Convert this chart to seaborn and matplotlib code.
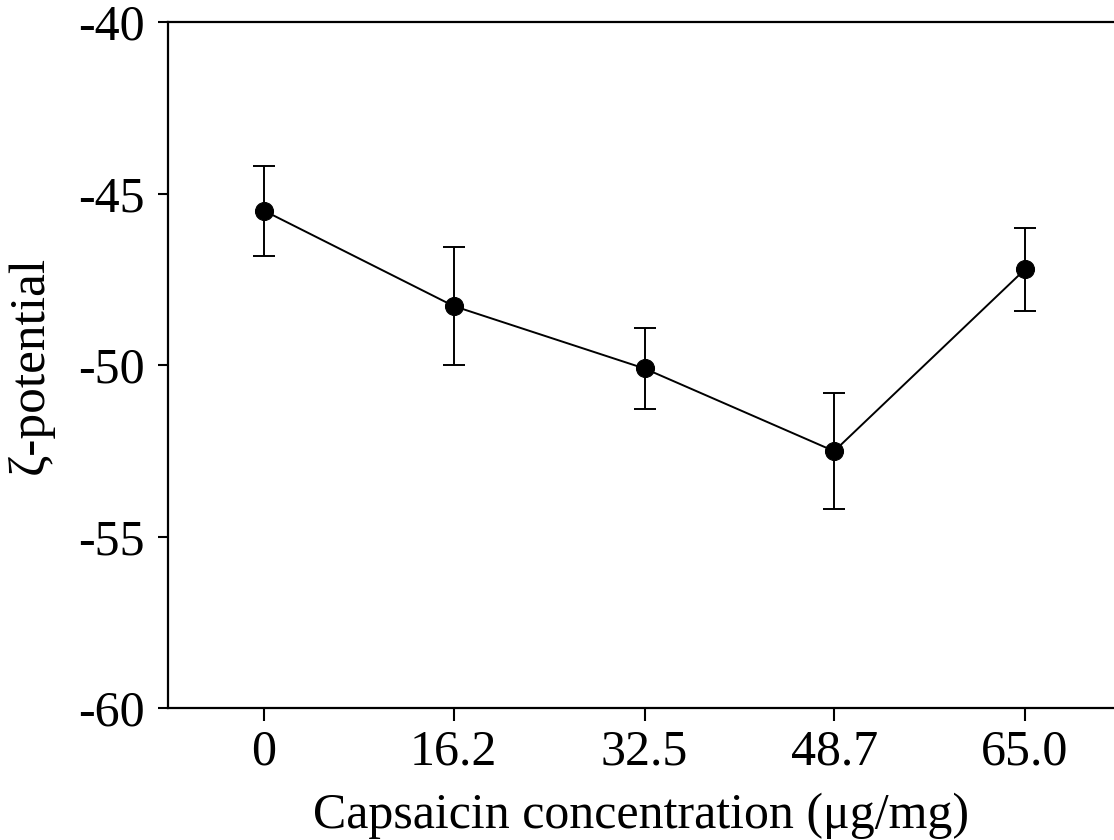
import matplotlib
matplotlib.use("Agg")
import matplotlib.pyplot as plt
import pandas as pd
import seaborn as sns

# data
concentration = [0, 16.2, 32.5, 48.7, 65.0]
tick_labels = ["0", "16.2", "32.5", "48.7", "65.0"]
zeta_mean = [-45.5, -48.28, -50.1, -52.51, -47.21]
zeta_err = [1.31, 1.72, 1.19, 1.69, 1.21]

sns.set_style("ticks")
plt.rcParams["font.family"] = ["Liberation Serif", "DejaVu Serif"]
plt.rcParams["text.color"] = "black"
plt.rcParams["axes.labelcolor"] = "black"
plt.rcParams["xtick.color"] = "black"
plt.rcParams["ytick.color"] = "black"

df = pd.DataFrame({"conc": concentration, "zeta": zeta_mean, "err": zeta_err})

fig = plt.figure(figsize=(11.14, 8.4), dpi=100)
ax = fig.add_axes([0.1508, 0.157, 0.8492, 0.8168])

sns.lineplot(data=df, x="conc", y="zeta", ax=ax, color="black", linewidth=1.4,
             marker="o", markersize=13, markeredgecolor="black", zorder=3)
ax.errorbar(df["conc"], df["zeta"], yerr=df["err"], fmt="none", ecolor="black",
            elinewidth=1.4, capsize=8, capthick=1.4, zorder=2)

ax.set_xlim(-8.2, 72.6)
ax.set_ylim(-60, -40)
ax.set_xticks(concentration)
ax.set_xticklabels(tick_labels)
ax.set_yticks([-60, -55, -50, -45, -40])
ax.set_yticklabels(["-60", "-55", "-50", "-45", "-40"])

ax.tick_params(axis="both", labelsize=36, direction="out", width=1.5,
               color="black", labelcolor="black")
ax.tick_params(axis="x", length=9, pad=6)
ax.tick_params(axis="y", length=7, pad=10)
for side in ["left", "top", "bottom", "right"]:
    ax.spines[side].set_color("black")
    ax.spines[side].set_linewidth(1.6)
ax.spines["right"].set_visible(False)

ax.set_xlabel("Capsaicin concentration (μg/mg)", fontsize=36, labelpad=12)
ax.set_ylabel("ζ-potential", fontsize=37, labelpad=17)

fig.savefig("out.png", dpi=100)
